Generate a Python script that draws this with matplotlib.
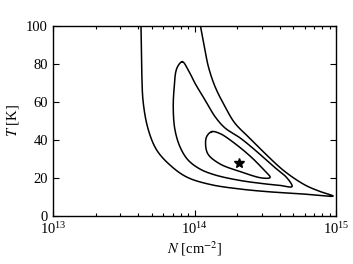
import numpy as np
import matplotlib
matplotlib.use("Agg")
import matplotlib.pyplot as plt
from matplotlib.ticker import LogLocator, MultipleLocator

# contour paths: log10(N / cm^-2) and T [K]
outer_logN = [13.622, 13.627, 13.638, 13.674, 13.733, 13.827, 13.945, 14.110,
              14.322, 14.534, 14.746, 14.979, 14.887, 14.781, 14.640, 14.522,
              14.404, 14.286, 14.216, 14.145, 14.098, 14.074, 14.042]
outer_T = [100.0, 76.8, 59.5, 45.3, 34.7, 26.8, 20.5, 16.6,
           14.2, 12.7, 11.7, 10.5, 12.9, 16.3, 23.3, 31.2,
           40.0, 48.8, 57.5, 68.1, 78.6, 87.4, 100.0]

middle_logN = [13.914, 13.956, 14.004, 14.074, 14.145, 14.216, 14.322, 14.428,
               14.555, 14.654, 14.689, 14.604, 14.510, 14.322, 14.145, 14.039,
               13.954, 13.898, 13.862, 13.850, 13.855, 13.876]
middle_T = [81.2, 76.8, 69.8, 61.1, 52.3, 46.3, 41.1, 34.7,
            26.3, 20.0, 15.5, 16.1, 16.8, 18.7, 21.6, 24.7,
            29.5, 36.3, 45.3, 55.8, 66.3, 77.9]

inner_logN = [14.122, 14.180, 14.272, 14.392, 14.477, 14.534, 14.477, 14.322,
              14.180, 14.095, 14.078, 14.088]
inner_T = [44.4, 43.4, 38.9, 31.6, 25.3, 20.3, 20.0, 23.4,
           27.4, 32.6, 38.4, 42.1]

best_logN = 14.314
best_T = 28.1


def smooth(xs, ys, closed=False, n=20):
    # centripetal Catmull-Rom through the read points (in display-like units)
    p = np.column_stack([(np.asarray(xs) - 13) / 2 * 283, np.asarray(ys) * 1.9])
    if closed:
        p = np.vstack([p[-1], p, p[0], p[1]])
    else:
        p = np.vstack([2 * p[0] - p[1], p, 2 * p[-1] - p[-2]])
    out = []
    for i in range(1, len(p) - 2):
        p0, p1, p2, p3 = p[i - 1], p[i], p[i + 1], p[i + 2]
        t0 = 0.0
        t1 = t0 + np.linalg.norm(p1 - p0) ** 0.5 + 1e-9
        t2 = t1 + np.linalg.norm(p2 - p1) ** 0.5 + 1e-9
        t3 = t2 + np.linalg.norm(p3 - p2) ** 0.5 + 1e-9
        t = np.linspace(t1, t2, n)[:, None]
        a1 = (t1 - t) / (t1 - t0) * p0 + (t - t0) / (t1 - t0) * p1
        a2 = (t2 - t) / (t2 - t1) * p1 + (t - t1) / (t2 - t1) * p2
        a3 = (t3 - t) / (t3 - t2) * p2 + (t - t2) / (t3 - t2) * p3
        b1 = (t2 - t) / (t2 - t0) * a1 + (t - t0) / (t2 - t0) * a2
        b2 = (t3 - t) / (t3 - t1) * a2 + (t - t1) / (t3 - t1) * a3
        c = (t2 - t) / (t2 - t1) * b1 + (t - t1) / (t2 - t1) * b2
        out.append(c)
    out = np.vstack(out)
    return 10 ** (13 + out[:, 0] / 283 * 2), out[:, 1] / 1.9


plt.rcParams['font.family'] = ['Liberation Serif', 'DejaVu Serif']
plt.rcParams['mathtext.fontset'] = 'stix'
plt.rcParams['font.size'] = 10.5

fig = plt.figure(figsize=(3.53, 2.64), dpi=100)
ax = fig.add_axes([0.150, 0.1818, 0.802, 0.7197])

for xs, ys, closed in [(outer_logN, outer_T, False),
                       (middle_logN, middle_T, True),
                       (inner_logN, inner_T, True)]:
    x, y = smooth(xs, ys, closed)
    ax.plot(x, y, color='black', lw=1.1, solid_joinstyle='round')

ax.plot(10 ** best_logN, best_T, marker='*', color='black', ms=7, ls='none')

ax.set_xscale('log')
ax.set_xlim(1e13, 1e15)
ax.set_ylim(0, 100)
ax.yaxis.set_major_locator(MultipleLocator(20))
ax.xaxis.set_minor_locator(LogLocator(base=10, subs=np.arange(2, 10)))
ax.tick_params(which='both', direction='in', top=True, right=True, width=0.8)
ax.tick_params(which='major', length=4.5)
ax.tick_params(which='minor', length=2.5)
for s in ax.spines.values():
    s.set_linewidth(1.0)

ax.set_xlabel(r'$N$ [cm$^{-2}$]', labelpad=2)
ax.set_ylabel(r'$T$ [K]')

fig.savefig('out.png', dpi=100)
